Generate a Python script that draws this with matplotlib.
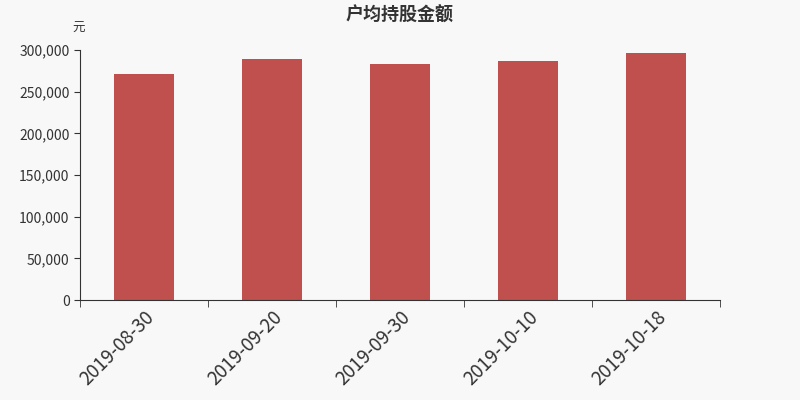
import matplotlib
matplotlib.use('Agg')
import matplotlib.pyplot as plt
from matplotlib.ticker import FuncFormatter
import numpy as np

plt.rcParams['font.family'] = ['Noto Sans CJK SC', 'DejaVu Sans']

# 数据
dates = ['2019-08-30', '2019-09-20', '2019-09-30', '2019-10-10', '2019-10-18']
amounts = [271000, 289000, 283000, 286500, 296500]

fig = plt.figure(figsize=(8, 4), dpi=100, facecolor='#f8f8f8')
ax = fig.add_axes([0.1, 0.25, 0.8, 0.625])
ax.set_facecolor('#f8f8f8')

x = np.arange(len(dates))
ax.bar(x, amounts, width=0.47, color='#c0504d')

ax.set_xlim(-0.5, len(dates) - 0.5)
ax.set_ylim(0, 300000)
ax.set_yticks(range(0, 300001, 50000))
ax.yaxis.set_major_formatter(FuncFormatter(lambda v, p: f'{int(v):,}'))

ax.set_xticks(x)
ax.set_xticklabels(dates, rotation=45, ha='right', rotation_mode='anchor',
                   fontsize=13.5, color='#333333')
ax.set_xticks(np.arange(-0.5, len(dates)), minor=True)
ax.tick_params(axis='x', which='major', length=0, pad=5)
ax.tick_params(axis='x', which='minor', length=5, color='#333333')
ax.tick_params(axis='y', length=4, labelsize=10, colors='#333333')

for s in ['top', 'right']:
    ax.spines[s].set_visible(False)
ax.spines['left'].set_color('#333333')
ax.spines['bottom'].set_color('#333333')

fig.text(0.5, 0.962, '户均持股金额', ha='center', va='center',
         fontsize=13, fontweight='bold', color='#333333')
fig.text(0.098, 0.93, '元', ha='center', va='center', fontsize=9, color='#333333')

fig.savefig('out.png', dpi=100, facecolor=fig.get_facecolor())
